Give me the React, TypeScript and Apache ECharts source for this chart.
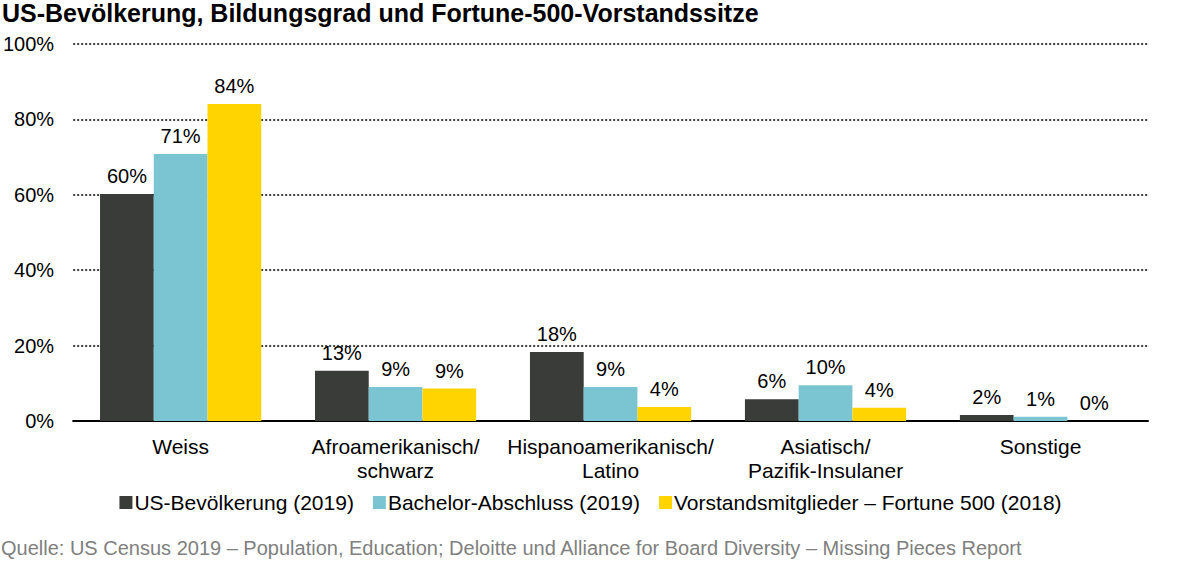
import React, { useEffect, useRef } from "react";
import * as echarts from "echarts";

const categories = ["Weiss", "Afroamerikanisch/\nschwarz", "Hispanoamerikanisch/\nLatino", "Asiatisch/\nPazifik-Insulaner", "Sonstige"];
const seriesNames = ["US-Bevölkerung (2019)", "Bachelor-Abschluss (2019)", "Vorstandsmitglieder – Fortune 500 (2018)"];
const population = [60.2, 13.3, 18.3, 5.8, 1.6];
const bachelor = [70.8, 9.0, 9.0, 9.5, 1.1];
const fortune = [84.1, 8.6, 3.7, 3.5, 0];
const labelValues = [[60, 13, 18, 6, 2], [71, 9, 9, 10, 1], [84, 9, 4, 4, 0]];
const yTicks = [0, 20, 40, 60, 80, 100];
const colors = ["#3a3c39", "#7bc5d2", "#ffd400"];

const FONT = "Liberation Sans, Arial, sans-serif";

export default function App() {
  const ref = useRef<HTMLDivElement>(null);
  useEffect(() => {
    document.body.style.margin = "0";
    const chart = echarts.init(ref.current!, null, { renderer: "svg" });
    const data = [population, bachelor, fortune];
    chart.setOption({
      animation: false,
      textStyle: { fontFamily: FONT },
      title: {
        text: "US-Bevölkerung, Bildungsgrad und Fortune-500-Vorstandssitze",
        left: 0,
        top: 0,
        padding: [0, 0, 0, 2],
        textStyle: { fontSize: 25, fontWeight: "bold", color: "#000", fontFamily: FONT },
      },
      graphic: [
        {
          type: "text",
          left: 1,
          top: 538,
          style: {
            text: "Quelle: US Census 2019 – Population, Education; Deloitte und Alliance for Board Diversity – Missing Pieces Report",
            fontSize: 20,
            fill: "#808080",
            fontFamily: FONT,
          },
        },
      ],
      legend: {
        data: seriesNames,
        top: 492,
        left: "center",
        icon: "rect",
        itemWidth: 13,
        itemHeight: 13,
        itemGap: 19,
        padding: 0,
        textStyle: { fontSize: 21, color: "#000", fontFamily: FONT, padding: [0, 0, 0, -3] },
      },
      grid: { left: 66, right: 33, top: 44, bottom: 148, containLabel: false },
      xAxis: {
        type: "category",
        data: categories,
        axisLine: { lineStyle: { color: "#000", width: 2 } },
        axisTick: { show: false },
        axisLabel: { interval: 0, fontSize: 21, color: "#000", margin: 13, lineHeight: 24, fontFamily: FONT },
      },
      yAxis: {
        type: "value",
        min: yTicks[0],
        max: yTicks[yTicks.length - 1],
        interval: 20,
        axisLine: { show: false },
        axisTick: { show: false },
        axisLabel: { fontSize: 20, color: "#000", margin: 19, formatter: (v: number) => v + "%", fontFamily: FONT },
        splitLine: { lineStyle: { color: "#000", type: [2, 2], width: 1.5 } },
      },
      series: seriesNames.map((name, i) => ({
        name,
        type: "bar",
        barGap: "0%",
        barCategoryGap: "25%",
        itemStyle: { color: colors[i] },
        data: data[i],
        label: {
          show: true,
          position: "top",
          distance: 8,
          fontSize: 20,
          color: "#000",
          fontFamily: FONT,
          formatter: (p: any) => labelValues[i][p.dataIndex] + "%",
        },
      })),
    });
    return () => chart.dispose();
  }, []);
  return <div ref={ref} style={{ width: 1181, height: 569 }} />;
}
